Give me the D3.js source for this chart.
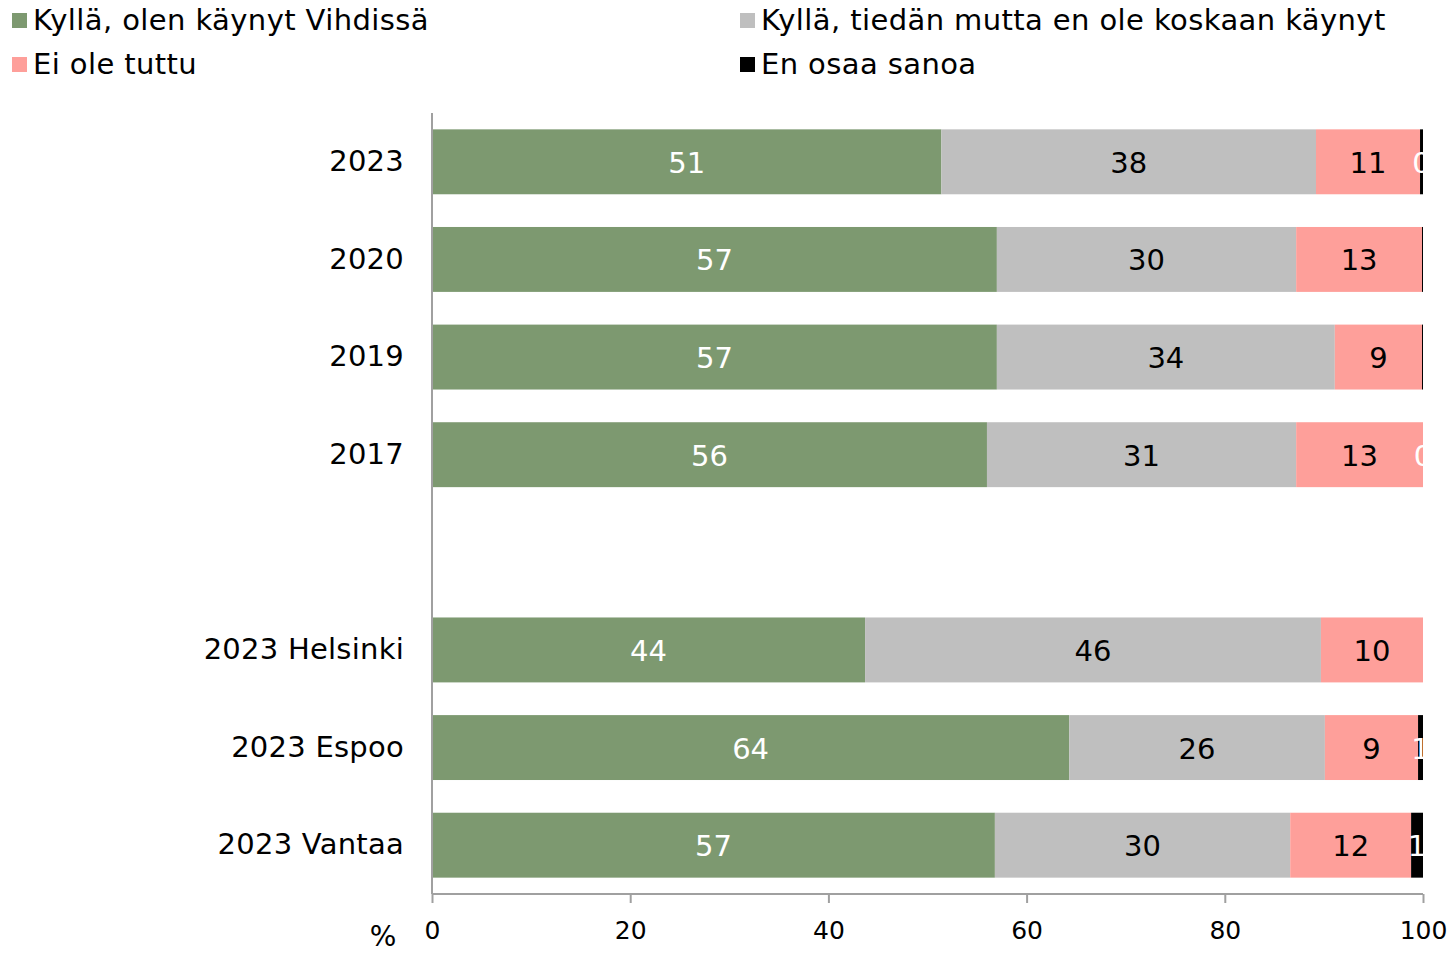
<!DOCTYPE html>
<html>
<head>
<meta charset="utf-8">
<script src="https://cdn.jsdelivr.net/npm/d3@7"></script>
<style>
  html, body { margin: 0; padding: 0; background: #fff; }
  svg { display: block; font-family: "DejaVu Sans", Verdana, sans-serif; }
</style>
</head>
<body>
<svg id="chart" width="1453" height="954"></svg>
<script>
// Response categories (rows); the blank entry separates the yearly rows from the city rows
const categories = ["2023", "2020", "2019", "2017", " ", "2023 Helsinki", "2023 Espoo", "2023 Vantaa"];

// Shares in percent, one array per answer
const visited         = [51.4, 57.0, 57.0, 56.0, null, 43.7, 64.3, 56.8];
const knownNotVisited = [37.8, 30.2, 34.1, 31.2, null, 46.0, 25.8, 29.8];
const notKnown        = [10.5, 12.7, 8.8, 12.8, null, 10.3, 9.4, 12.2];
const cantSay         = [0.3, 0.1, 0.1, 0.0, null, 0.0, 0.5, 1.2];
// Whether the "En osaa sanoa" segment carries a value label
const cantSayLabelled = [true, false, false, true, false, false, true, true];

const seriesNames = [
  "Kyllä, olen käynyt Vihdissä",
  "Kyllä, tiedän mutta en ole koskaan käynyt",
  "Ei ole tuttu",
  "En osaa sanoa"
];
const xTicks = [0, 20, 40, 60, 80, 100];

const seriesValues = [visited, knownNotVisited, notKnown, cantSay];
const seriesColors = ["#7D9970", "#BFBFBF", "#FE9F9A", "#000000"];
const labelColors  = ["#FFFFFF", "#000000", "#000000", "#FFFFFF"];

const svg = d3.select("#chart");

const x = d3.scaleLinear().domain([0, 100]).range([432, 1423]);
const y = d3.scaleBand().domain(categories).range([113, 894])
  .paddingInner(0.335).paddingOuter(0.1675);

// Stack the series into segments
const rows = categories.map((c, i) => {
  const r = { category: c, idx: i };
  seriesNames.forEach((s, k) => { r[s] = seriesValues[k][i] == null ? 0 : seriesValues[k][i]; });
  return r;
});
const stacked = d3.stack().keys(seriesNames)(rows);

svg.append("defs").append("clipPath").attr("id", "plotClip")
  .append("rect").attr("x", x(0)).attr("y", 100).attr("width", x(100) - x(0) + 1).attr("height", 800);

const plot = svg.append("g");

stacked.forEach((layer, k) => {
  plot.append("g").selectAll("rect")
    .data(layer.filter(d => seriesValues[k][d.data.idx] != null))
    .join("rect")
    .attr("x", d => x(d[0]))
    .attr("y", d => y(d.data.category))
    .attr("width", d => Math.max(0, x(d[1]) - x(d[0])))
    .attr("height", y.bandwidth())
    .attr("fill", seriesColors[k]);
});

// Value labels centred on each segment
const labels = plot.append("g").attr("clip-path", "url(#plotClip)")
  .attr("font-size", 29).attr("text-anchor", "middle");
stacked.forEach((layer, k) => {
  labels.selectAll(null)
    .data(layer.filter(d => {
      const v = seriesValues[k][d.data.idx];
      if (v == null) return false;
      if (k === 3) return cantSayLabelled[d.data.idx];
      return true;
    }))
    .join("text")
    .attr("x", d => x((d[0] + d[1]) / 2))
    .attr("y", d => y(d.data.category) + y.bandwidth() / 2)
    .attr("dy", "0.38em")
    .attr("fill", labelColors[k])
    .text(d => Math.round(seriesValues[k][d.data.idx]));
});

// Axes
const axisColor = "#A0A0A0";
const xAxis = svg.append("g").attr("transform", `translate(0,894)`)
  .call(d3.axisBottom(x).tickValues(xTicks).tickSize(9).tickPadding(18).tickFormat(d3.format("d")));
xAxis.select(".domain").attr("stroke", axisColor).attr("stroke-width", 2).attr("d", `M${x(0)},0H${x(100)}`);
xAxis.selectAll(".tick line").attr("stroke", axisColor).attr("stroke-width", 2);
xAxis.selectAll(".tick text").attr("font-size", 25).attr("fill", "#000")
  .attr("font-family", "DejaVu Sans, Verdana, sans-serif");

const yAxis = svg.append("g").attr("transform", `translate(${x(0)},0)`)
  .call(d3.axisLeft(y).tickSize(0).tickPadding(28));
yAxis.select(".domain").attr("stroke", axisColor).attr("stroke-width", 2).attr("d", `M0,113V894`);
yAxis.selectAll(".tick text").attr("font-size", 29).attr("fill", "#000")
  .attr("letter-spacing", "0.25px")
  .attr("font-family", "DejaVu Sans, Verdana, sans-serif");

svg.append("text").attr("x", 383).attr("y", 946).attr("text-anchor", "middle")
  .attr("font-size", 28).attr("fill", "#000").text("%");

// Legend, two columns by two rows
const legendPos = [[12, 13], [740, 13], [12, 57], [740, 57]];
const legend = svg.append("g");
seriesNames.forEach((name, k) => {
  const [lx, ly] = legendPos[k];
  legend.append("rect").attr("x", lx).attr("y", ly).attr("width", 15).attr("height", 15)
    .attr("fill", seriesColors[k]);
  legend.append("text").attr("x", lx + 21).attr("y", ly + 17).attr("font-size", 29)
    .attr("letter-spacing", "0.4px")
    .attr("fill", "#000").text(name);
});
</script>
</body>
</html>
